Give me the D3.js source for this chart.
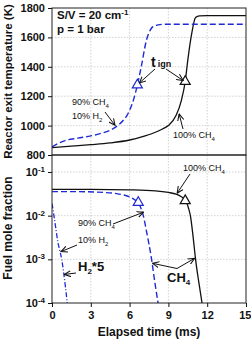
<!DOCTYPE html>
<html>
<head>
<meta charset="utf-8">
<script src="https://cdn.jsdelivr.net/npm/d3@7"></script>
<style>
  body { margin: 0; background: #fff; }
  svg { font-family: "Liberation Sans", Arial, sans-serif; }
  .tick text { font-size: 11px; font-weight: bold; fill: #111; }
  .axis path, .axis line { stroke: #111; }
  .grid line { stroke: #c8c8c8; stroke-width: 0.8; stroke-dasharray: 1.5,1.5; }
  .note { font-size: 9px; fill: #111; }
  .big { font-size: 13px; font-weight: bold; fill: #111; }
  .title { font-size: 12px; font-weight: bold; fill: #111; }
</style>
</head>
<body>
<svg id="chart"></svg>
<script>
// Top panel: reactor exit temperature (K) vs elapsed time (ms)
const tempTimeCH4 = [0, 1.5, 3, 4.5, 6, 7, 7.8, 8.5, 9, 9.6, 10, 10.3, 10.5, 10.8, 11.1, 11.4, 12, 15];
const tempCH4     = [850, 860, 870, 882, 902, 925, 948, 975, 1000, 1070, 1170, 1300, 1445, 1625, 1735, 1746, 1748, 1748];
const tempTimeMix = [0, 0.5, 1, 2, 3, 3.7, 4.5, 5, 5.5, 5.8, 6.1, 6.3, 6.6, 6.9, 7.3, 7.6, 7.8, 8.2, 8.6, 15];
const tempMix     = [855, 880, 898, 915, 930, 945, 968, 995, 1035, 1070, 1125, 1175, 1276, 1400, 1580, 1650, 1673, 1685, 1689, 1689];

// Bottom panel: fuel mole fraction (log)
const fuelTimeCH4 = [0, 3, 6, 8, 9, 9.6, 10, 10.35, 10.55, 10.7, 10.9, 11.1, 11.35, 11.6];
const fuelCH4     = [0.040, 0.040, 0.039, 0.037, 0.034, 0.031, 0.027, 0.022, 0.015, 0.010, 0.0035, 0.001, 0.0003, 0.0001];
const fuelTimeMix = [0, 2, 4, 5, 5.5, 6, 6.4, 6.7, 6.9, 7.06, 7.3, 7.7, 7.95, 8.2];
const fuelMixCH4  = [0.0355, 0.0355, 0.034, 0.032, 0.030, 0.027, 0.023, 0.020, 0.014, 0.010, 0.0045, 0.001, 0.0003, 0.0001];
const h2Time      = [0, 0.15, 0.3, 0.45, 0.6, 0.75, 0.9, 1.05, 1.18];
const h2Times5    = [0.019, 0.010, 0.005, 0.0025, 0.0016, 0.001, 0.0005, 0.00022, 0.0001];

// ignition markers [time, value]
const ignTemp = [[6.6, 1276, 'mix'], [10.3, 1300, 'ch4']];
const ignFuel = [[6.67, 0.020, 'mix'], [10.3, 0.022, 'ch4']];

const xTicks = [0, 3, 6, 9, 12, 15];
const tempTicks = [800, 1000, 1200, 1400, 1600, 1800];
const fuelTicks = [1e-1, 1e-2, 1e-3, 1e-4];

const blue = '#1f2ad6';
const W = 251, H = 340;
const margin = { left: 52, right: 5, top: 8 };
const plotW = 194;
const topH = 147, botH = 148;

const svg = d3.select('#chart').attr('width', W).attr('height', H);

const defs = svg.append('defs');
defs.append('marker')
    .attr('id', 'arrow')
    .attr('viewBox', '0 0 8 8')
    .attr('refX', 7.5).attr('refY', 4)
    .attr('markerWidth', 7).attr('markerHeight', 7)
    .attr('markerUnits', 'userSpaceOnUse')
    .attr('orient', 'auto')
    .append('path')
    .attr('d', 'M0,0.5 L7.5,4 L0,7.5')
    .attr('fill', 'none').attr('stroke', '#111').attr('stroke-width', 1.2);

const x = d3.scaleLinear().domain([0, 15]).range([margin.left, margin.left + plotW]);
const yT = d3.scaleLinear().domain([800, 1800]).range([margin.top + topH, margin.top]);
const botTop = margin.top + topH;
const yF = d3.scaleLog().domain([1e-4, Math.pow(10, -0.611)]).range([botTop + botH, botTop]);

defs.append('clipPath').attr('id', 'clipTop').append('rect')
    .attr('x', x(0)).attr('y', yT(1800)).attr('width', plotW).attr('height', topH);
defs.append('clipPath').attr('id', 'clipBot').append('rect')
    .attr('x', x(0)).attr('y', botTop).attr('width', plotW).attr('height', botH);

// grids
const gTop = svg.append('g').attr('class', 'grid');
gTop.selectAll('.v').data(xTicks.slice(1, -1)).join('line')
    .attr('x1', d => x(d)).attr('x2', d => x(d)).attr('y1', yT(1800)).attr('y2', yT(800));
gTop.selectAll('.h').data(tempTicks.slice(1, -1)).join('line')
    .attr('x1', x(0)).attr('x2', x(15)).attr('y1', d => yT(d)).attr('y2', d => yT(d));
const gBot = svg.append('g').attr('class', 'grid');
gBot.selectAll('.v').data(xTicks.slice(1, -1)).join('line')
    .attr('x1', d => x(d)).attr('x2', d => x(d)).attr('y1', botTop).attr('y2', botTop + botH);
gBot.selectAll('.h').data(fuelTicks.slice(0, -1)).join('line')
    .attr('x1', x(0)).attr('x2', x(15)).attr('y1', d => yF(d)).attr('y2', d => yF(d));

// curves
const zip = (a, b) => a.map((v, i) => [v, b[i]]);
const lineT = d3.line().x(d => x(d[0])).y(d => yT(d[1])).curve(d3.curveMonotoneX);
const lineF = d3.line().x(d => x(d[0])).y(d => yF(d[1])).curve(d3.curveMonotoneX);

const topLines = svg.append('g').attr('clip-path', 'url(#clipTop)');
topLines.append('path').datum(zip(tempTimeCH4, tempCH4))
    .attr('d', lineT).attr('fill', 'none').attr('stroke', '#111').attr('stroke-width', 1.3);
topLines.append('path').datum(zip(tempTimeMix, tempMix))
    .attr('d', lineT).attr('fill', 'none').attr('stroke', blue).attr('stroke-width', 1.4)
    .attr('stroke-dasharray', '6,3');

const botLines = svg.append('g').attr('clip-path', 'url(#clipBot)');
botLines.append('path').datum(zip(fuelTimeCH4, fuelCH4))
    .attr('d', lineF).attr('fill', 'none').attr('stroke', '#111').attr('stroke-width', 1.3);
botLines.append('path').datum(zip(fuelTimeMix, fuelMixCH4))
    .attr('d', lineF).attr('fill', 'none').attr('stroke', blue).attr('stroke-width', 1.4)
    .attr('stroke-dasharray', '6,3');
botLines.append('path').datum(zip(h2Time, h2Times5))
    .attr('d', lineF).attr('fill', 'none').attr('stroke', blue).attr('stroke-width', 1.3)
    .attr('stroke-dasharray', '5,2,1,2');

// ignition triangles
const tri = d3.symbol().type(d3.symbolTriangle).size(44);
svg.selectAll('.ignT').data(ignTemp).join('path')
    .attr('transform', d => `translate(${x(d[0])},${yT(d[1])})`)
    .attr('d', tri).attr('fill', '#fff')
    .attr('stroke', d => d[2] === 'mix' ? blue : '#111').attr('stroke-width', 1.2);
svg.selectAll('.ignF').data(ignFuel).join('path')
    .attr('transform', d => `translate(${x(d[0])},${yF(d[1])})`)
    .attr('d', tri).attr('fill', '#fff')
    .attr('stroke', d => d[2] === 'mix' ? blue : '#111').attr('stroke-width', 1.2);

// frames
svg.append('rect').attr('x', x(0)).attr('y', yT(1800)).attr('width', plotW).attr('height', topH)
    .attr('fill', 'none').attr('stroke', '#222').attr('stroke-width', 1);
svg.append('rect').attr('x', x(0)).attr('y', botTop).attr('width', plotW).attr('height', botH)
    .attr('fill', 'none').attr('stroke', '#222').attr('stroke-width', 1);

// axes
svg.append('g').attr('class', 'axis')
    .attr('transform', `translate(${x(0)},0)`)
    .call(d3.axisLeft(yT).tickValues(tempTicks).tickSize(4).tickPadding(3).tickFormat(d3.format('d')))
    .call(g => g.select('.domain').remove());

const fuelAxis = svg.append('g').attr('class', 'axis')
    .attr('transform', `translate(${x(0)},0)`)
    .call(d3.axisLeft(yF).tickValues(fuelTicks).tickSize(4).tickPadding(3).tickFormat(''))
    .call(g => g.select('.domain').remove());
fuelAxis.selectAll('.tick text').each(function(d) {
    const t = d3.select(this);
    t.append('tspan').text('10');
    t.append('tspan').attr('dy', -4).attr('font-size', '8px').text(Math.round(Math.log10(d)));
});

svg.append('g').attr('class', 'axis')
    .attr('transform', `translate(0,${botTop + botH})`)
    .call(d3.axisBottom(x).tickValues(xTicks).tickSize(4).tickPadding(4).tickFormat(d3.format('d')))
    .call(g => g.select('.domain').remove())
    // keep the last label inside the window
    .call(g => g.selectAll('.tick text').filter(d => d === 15).attr('text-anchor', 'end').attr('dx', 5));

// axis titles
svg.append('text').attr('class', 'title')
    .attr('transform', `translate(12,${yT(1300)}) rotate(-90)`)
    .attr('text-anchor', 'middle').style('font-size', '11.5px').text('Reactor exit temperature (K)');
svg.append('text').attr('class', 'title')
    .attr('transform', `translate(12,228) rotate(-90)`)
    .attr('text-anchor', 'middle').text('Fuel mole fraction');
svg.append('text').attr('class', 'title')
    .attr('x', x(7.5)).attr('y', 336).attr('text-anchor', 'middle').text('Elapsed time (ms)');

// condition labels
const sv = svg.append('text').attr('class', 'big').attr('x', 57).attr('y', 19).style('font-size', '11.5px');
sv.append('tspan').text('S/V = 20 cm');
sv.append('tspan').attr('dy', -4).attr('font-size', '8px').text('-1');
svg.append('text').attr('class', 'big').attr('x', 57).attr('y', 33).style('font-size', '11.5px').text('p = 1 bar');

// annotations
function arrow(x1, y1, x2, y2) {
    svg.append('line').attr('x1', x1).attr('y1', y1).attr('x2', x2).attr('y2', y2)
        .attr('stroke', '#111').attr('stroke-width', 1).attr('marker-end', 'url(#arrow)');
}
function chem(xp, yp, base, sub, cls, subSize) {
    const t = svg.append('text').attr('class', cls).attr('x', xp).attr('y', yp);
    t.append('tspan').text(base);
    t.append('tspan').attr('dy', 3).attr('font-size', subSize).text(sub);
    return t;
}

// t_ign
const tig = svg.append('text').attr('x', 151).attr('y', 67);
tig.append('tspan').attr('class', 'big').style('font-size', '14px').text('t');
tig.append('tspan').attr('class', 'note').attr('dx', 2).attr('dy', 0).style('font-weight', 'bold').text('ign');
arrow(155, 69, x(ignTemp[0][0]) + 2, yT(ignTemp[0][1]) - 2);
arrow(166, 69, x(ignTemp[1][0]) - 2, yT(ignTemp[1][1]) - 1);

chem(72, 105, '90% CH', '4', 'note', '6px');
chem(72, 119, '10% H', '2', 'note', '6px');
arrow(105, 112, x(4.95) - 1, yT(995) - 1);

chem(173, 138, '100% CH', '4', 'note', '6px');
arrow(183, 129, x(9.75) + 1, yT(1100) + 3);

chem(183, 171, '100% CH', '4', 'note', '6px');
arrow(190, 174, x(9.6) + 1, yF(0.031) - 1);

chem(78, 226, '90% CH', '4', 'note', '6px');
arrow(113, 224, x(7.0) + 1, yF(0.012));

chem(78, 243, '10% H', '2', 'note', '6px');
arrow(77, 245, x(0.62) + 1, yF(0.0015));

const h2 = svg.append('text').attr('class', 'big').attr('x', 78).attr('y', 271);
h2.append('tspan').text('H');
h2.append('tspan').attr('dy', 3).attr('font-size', '8px').text('2');
h2.append('tspan').attr('dy', -3).text('*5');
arrow(76, 273, x(0.88) + 1, yF(0.00045));

chem(167, 282, 'CH', '4', 'big', '8px');
arrow(177, 268.5, x(7.7) + 1, yF(0.001) + 4);
arrow(177, 268.5, x(11.1) - 1, yF(0.001) - 1);
</script>
</body>
</html>
